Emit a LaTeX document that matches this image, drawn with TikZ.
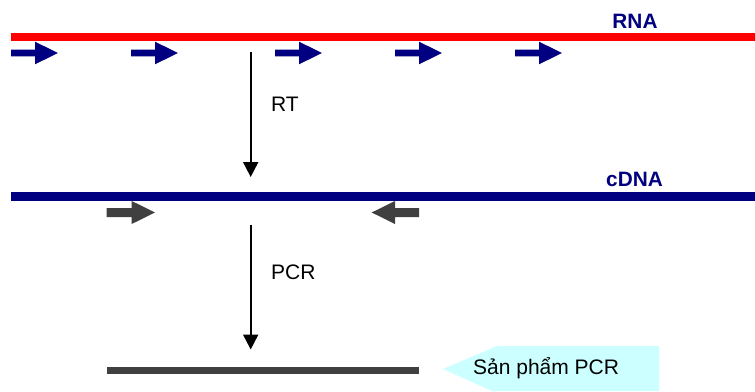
\documentclass[tikz,border=0pt]{standalone}
\usepackage{fontspec}
\setmainfont{Liberation Sans}
\usetikzlibrary{arrows.meta}
\definecolor{navyc}{HTML}{000080}
\definecolor{redc}{HTML}{FF0000}
\definecolor{grayc}{HTML}{404040}
\definecolor{cyanc}{HTML}{CCFFFF}
\begin{document}
\begin{tikzpicture}[x=1pt,y=-1pt,
  strand/.style={line width=8pt},
  lbl/.style={font=\fontsize{21}{23}\selectfont, inner sep=0pt},
  blbl/.style={lbl, font=\fontsize{20.8}{23}\selectfont\bfseries, text=navyc},
  steparrow/.style={line width=2pt, -{Triangle[width=15pt,length=15pt]}}
]
\useasboundingbox (0,0) rectangle (755,391);
% strands
\coordinate (rnaL) at (11,36.7);
\coordinate (rnaR) at (755,36.7);
\draw[strand, redc] (rnaL) -- (rnaR);
\coordinate (cdnaL) at (11,196.2);
\coordinate (cdnaR) at (755,196.2);
\draw[strand, navyc, line width=9pt] (cdnaL) -- (cdnaR);
\coordinate (prodL) at (107,370);
\coordinate (prodR) at (419,370);
\draw[line width=7pt, grayc] (prodL) -- (prodR);
% labels
\node[blbl, anchor=base] (rna) at (635,28) {RNA};
\node[blbl, anchor=base] (cdna) at (634.5,186.7) {cDNA};
% RT primers (forward, navy)
\foreach \x in {11,131,275,395,515}{
  \fill[navyc] (\x,49.7) -- (\x+24,49.7) -- (\x+24,41.7) -- (\x+47,53) -- (\x+24,64.3) -- (\x+24,56.3) -- (\x,56.3) -- cycle;
}
% PCR primers (gray)
\fill[grayc] (106.7,208) -- (131.7,208) -- (131.7,201) -- (155,212.5) -- (131.7,224) -- (131.7,217) -- (106.7,217) -- cycle;
\fill[grayc] (419,208) -- (395,208) -- (395,201) -- (371.7,212.5) -- (395,224) -- (395,217) -- (419,217) -- cycle;
% step arrows
\coordinate (rtS) at (250.7,51.7);
\coordinate (rtE) at (250.7,177);
\draw[steparrow] (rtS) -- (rtE);
\node[lbl, anchor=base west] (rt) at (271,111) {RT};
\coordinate (pcrS) at (250.7,225);
\coordinate (pcrE) at (250.7,349.5);
\draw[steparrow] (pcrS) -- (pcrE);
\node[lbl, anchor=base west] (pcr) at (271,279) {PCR};
% callout
\fill[cyanc] (443,369) -- (497,346) -- (659,346) -- (659,391) -- (492,391) -- cycle;
\node[lbl, anchor=base west] (prod) at (473,374) {Sản phẩm PCR};
\end{tikzpicture}
\end{document}
